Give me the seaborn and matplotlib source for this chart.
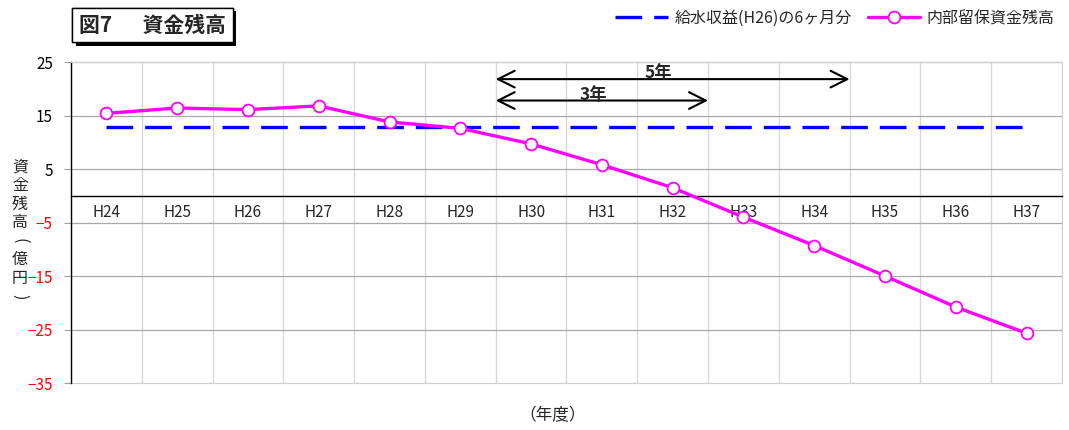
import matplotlib
matplotlib.use('Agg')
import matplotlib.pyplot as plt
import matplotlib.patheffects as pe
import seaborn as sns
import pandas as pd
import numpy as np

# データ（億円）
years = ['H24', 'H25', 'H26', 'H27', 'H28', 'H29', 'H30',
         'H31', 'H32', 'H33', 'H34', 'H35', 'H36', 'H37']
balance = [15.4, 16.4, 16.1, 16.8, 13.8, 12.6, 9.7,
           5.8, 1.5, -4.0, -9.3, -15.0, -20.8, -25.7]
revenue_6m = 12.8
yticks = [25, 15, 5, -5, -15, -25, -35]

# 矢印（H30 から何年）
arrow_labels = ['5年', '3年']
arrow_years = [5, 3]
arrow_levels = [21.8, 17.8]
arrow_start = 'H30'

sns.set_style('white')
plt.rcParams['font.family'] = ['Noto Sans CJK JP', 'DejaVu Sans']

df = pd.DataFrame({'pos': np.arange(len(years)), '年度': years, '残高': balance})

fig = plt.figure(figsize=(10.69, 4.30), dpi=100)
ax = fig.add_axes([0.0664, 0.1093, 0.927, 0.7465])

sns.lineplot(data=df, x='pos', y='残高', ax=ax, color='#FF00FF', linewidth=2.4,
             marker='o', markersize=8.5, markerfacecolor='white',
             markeredgecolor='#FF00FF', markeredgewidth=1.3,
             label='内部留保資金残高', zorder=4)
blue_df = pd.DataFrame({'pos': [0, len(years) - 1], 'v': [revenue_6m, revenue_6m]})
sns.lineplot(data=blue_df, x='pos', y='v', ax=ax, color='#0000FF', linewidth=2.4,
             dashes=False, label='給水収益(H26)の6ヶ月分', zorder=3)
blue_line = ax.get_lines()[-1]
blue_line.set_dashes((8, 3.6))

ax.set_xlim(-0.5, len(years) - 0.5)
ax.set_ylim(-35, 25)
ax.set_yticks(yticks)
ax.set_yticklabels([str(v).replace('-', '\u2212') for v in yticks])
for lab, v in zip(ax.get_yticklabels(), yticks):
    lab.set_color('red' if v < 0 else 'black')

ax.set_xticks(df['pos'])
ax.set_xticklabels(years)
ax.set_xticks(np.arange(-0.5, len(years), 1), minor=True)
ax.spines['bottom'].set_position(('data', 0))
ax.spines['bottom'].set_color('black')
ax.spines['bottom'].set_linewidth(1.0)
ax.spines['left'].set_color('black')
ax.spines['left'].set_linewidth(1.0)
ax.spines['top'].set_color('#d0d0d0')
ax.spines['right'].set_color('#d0d0d0')

ax.tick_params(axis='x', which='major', length=0, pad=6, labelsize=11)
ax.tick_params(axis='x', which='minor', direction='in', length=5, color='#b0b0b0')
ax.tick_params(axis='y', which='major', length=5, color='#a0a0a0', pad=8, labelsize=11,
               left=True)
ax.grid(axis='y', which='major', color='#a8a8a8', linewidth=0.9)
ax.grid(axis='x', which='minor', color='#d8d8d8', linewidth=1.0)
ax.grid(axis='x', which='major', visible=False)
for g in ax.yaxis.get_gridlines():
    g.set_clip_on(False)
ax.yaxis.get_gridlines()[-1].set_color('#d0d0d0')
ax.set_xlabel('')
ax.set_ylabel('')

# 矢印
x0 = years.index(arrow_start) - 0.5
for lab, n, lv in zip(arrow_labels, arrow_years, arrow_levels):
    ax.annotate('', xy=(x0 + n, lv), xytext=(x0, lv),
                arrowprops=dict(arrowstyle='<->,head_length=0.6,head_width=0.3',
                                lw=1.5, color='black', mutation_scale=20,
                                shrinkA=0, shrinkB=0))
    ax.text(x0 + n / 2 - 0.04 * n, lv + 1.1, lab, ha='center', va='center',
            fontsize=12.5, fontweight='bold')

# 凡例
h, l = ax.get_legend_handles_labels()
ax.get_legend().remove()
fig.legend(h[::-1], l[::-1], loc='upper right', bbox_to_anchor=(1.0, 1.01), ncol=2,
           frameon=False, fontsize=11.5, handlelength=3.3, columnspacing=1.0,
           handletextpad=0.4)

# タイトル
t = fig.text(0.074, 0.942, '図7\u3000  資金残高', fontsize=15, fontweight='bold',
             va='center', ha='left',
             bbox=dict(boxstyle='square,pad=0.33', fc='white', ec='black', lw=1.0))
t.get_bbox_patch().set_path_effects(
    [pe.withSimplePatchShadow(offset=(2.5, -2.5), shadow_rgbFace='black', alpha=1.0),
     pe.Normal()])

# 縦書きの軸ラベル（括弧は回転させて縦書き用にする）
ylabel_chars = ['資', '金', '残', '高', '(', '億', '円', ')']
for i, ch in enumerate(ylabel_chars):
    rot = -90 if ch in '()' else 0
    fig.text(20 / 1069, 1 - (167 + i * 18.5) / 430, ch, fontsize=11.5,
             ha='center', va='center', rotation=rot, rotation_mode='anchor')

fig.text(0.517, 0.033, '（年度）', fontsize=12, ha='center', va='center')

fig.savefig('out.png', dpi=100)
